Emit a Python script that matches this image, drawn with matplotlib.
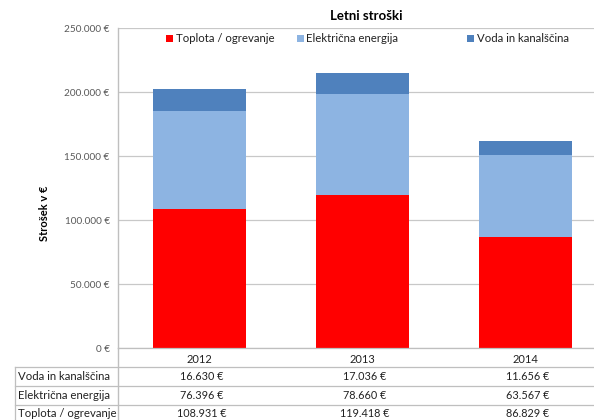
import matplotlib
matplotlib.use("Agg")
import matplotlib.pyplot as plt
from matplotlib.lines import Line2D
from matplotlib.patches import Rectangle
import numpy as np

years = ["2012", "2013", "2014"]
series_names = ["Toplota / ogrevanje", "Električna energija", "Voda in kanalščina"]
toplota = [108931, 119418, 86829]
elektrika = [76396, 78660, 63567]
voda = [16630, 17036, 11656]
colors = ["#FF0000", "#8DB4E2", "#4F81BD"]
yticks = [0, 50000, 100000, 150000, 200000, 250000]


def eur(v):
    return f"{v:,}".replace(",", ".") + " €"


plt.rcParams["font.family"] = ["Lato", "DejaVu Sans"]
W, H = 594, 420
fig = plt.figure(figsize=(W / 100, H / 100), dpi=100)
fig.patch.set_facecolor("white")


def fy(py):
    return 1 - py / H


def fx(px):
    return px / W


# plot area in pixel units
left, right, top, bottom = 118, 607, 28, 348
ax = fig.add_axes([left / W, (H - bottom) / H, (right - left) / W, (bottom - top) / H])

x = np.arange(len(years))
series = [toplota, elektrika, voda]
base = np.zeros(len(years))
for vals, col, name in zip(series, colors, series_names):
    ax.bar(x, vals, width=0.57, bottom=base, color=col, label=name, zorder=3)
    base = base + np.array(vals)

ax.set_xlim(-0.5, len(years) - 0.5)
ax.set_ylim(0, 250000)
ax.set_yticks(yticks)
ax.set_yticklabels([eur(v) for v in yticks], fontsize=7.2, color="#595959")
ax.tick_params(axis="y", length=0, pad=6)
ax.set_xticks(x)
ax.set_xticklabels(years, fontsize=8, color="#222222")
ax.tick_params(axis="x", length=0, pad=4)
ax.grid(axis="y", color="#C8C8C8", linewidth=0.9, zorder=0)
for s in ["top", "right", "bottom"]:
    ax.spines[s].set_visible(False)
ax.spines["left"].set_color("#BFBFBF")
ax.spines["left"].set_linewidth(1.0)

ax.set_ylabel("Strošek v €", fontsize=8, fontweight="bold")
ax.yaxis.set_label_coords(-(left - 50) / (right - left), 0.42)

fig.text(fx(366), fy(16), "Letni stroški", ha="center", va="center",
         fontsize=9.5, fontweight="bold")

# legend entries across the top of the plot area
legend_pos = [(166, 176), (297, 306), (467, 477)]
for (sx, tx), col, name in zip(legend_pos, colors, series_names):
    fig.add_artist(Rectangle((fx(sx), fy(41.5)), 6.5 / W, 6.5 / H,
                             facecolor=col, edgecolor="none", transform=fig.transFigure))
    fig.text(fx(tx), fy(38), name, ha="left", va="center", fontsize=8.2, color="#222222")

# data table under the chart
line_col = "#BFBFBF"
for py, x0 in [(348, 118), (367, 15), (386, 15), (405, 15)]:
    fig.add_artist(Line2D([fx(x0), 1.0], [fy(py), fy(py)], color=line_col, linewidth=0.9))
fig.add_artist(Line2D([fx(118), fx(118)], [fy(348), 0], color=line_col, linewidth=1.0))
fig.add_artist(Line2D([fx(15), fx(15)], [fy(367), 0], color=line_col, linewidth=0.9))

rows = [(series_names[2], voda), (series_names[1], elektrika), (series_names[0], toplota)]
row_y = [376.5, 395.5, 413.5]
for (name, vals), py in zip(rows, row_y):
    fig.text(fx(18), fy(py), name, ha="left", va="center", fontsize=8.2, color="#222222")
    for xi, v in zip(x, vals):
        disp = ax.transData.transform((xi, 0))
        fig.text(disp[0] / W + 2 / W, fy(py), eur(v), ha="center", va="center",
                 fontsize=7.8, color="#222222")

fig.savefig("out.png", dpi=100)
